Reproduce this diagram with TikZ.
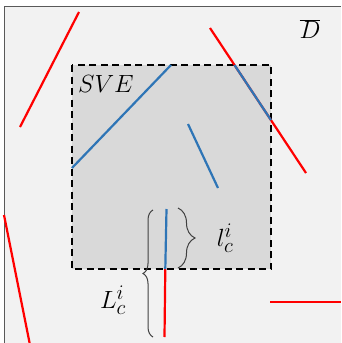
\documentclass[tikz,border=0pt]{standalone}
\usetikzlibrary{decorations.pathreplacing,calc}
\definecolor{bgfill}{HTML}{F2F2F2}
\definecolor{svefill}{HTML}{D9D9D9}
\definecolor{fiberred}{HTML}{FF0000}
\definecolor{fiberblue}{HTML}{2E75B6}
\definecolor{framegray}{HTML}{595959}
\definecolor{bracegray}{HTML}{404040}
\begin{document}
\begin{tikzpicture}[x=1pt,y=-1pt,
  redfiber/.style={draw=fiberred,line width=2.2pt},
  bluefiber/.style={draw=fiberblue,line width=2.2pt},
  frameline/.style={draw=framegray,line width=1pt},
  svebox/.style={draw=black,fill=svefill,line width=1.6pt,dash pattern=on 7pt off 4.5pt},
  bracestyle/.style={draw=bracegray,line width=1pt,decorate},
  lab/.style={font=\fontsize{28}{30}\selectfont,inner sep=0pt}
]
\useasboundingbox (0,0) rectangle (341,343);
\fill[bgfill] (4,6) rectangle (341,343);
\draw[frameline] (4,343) -- (4,6) -- (341,6);
\draw[svebox] (72,65) rectangle (271,269);

% red fibres
\coordinate (r1a) at (79,12);   \coordinate (r1b) at (20,127);
\coordinate (r2a) at (210,28);  \coordinate (r2b) at (306,173);
\coordinate (r3a) at (4,215);   \coordinate (r3b) at (30,345);
\coordinate (r4a) at (270,302); \coordinate (r4b) at (341,302);
\coordinate (r5a) at (165.3,269); \coordinate (r5b) at (164.5,337);
\draw[redfiber] (r1a) -- (r1b);
\draw[redfiber] (r2a) -- (r2b);
\draw[redfiber] (r3a) -- (r3b);
\draw[redfiber] (r4a) -- (r4b);
\draw[redfiber] (r5a) -- (r5b);

% blue fibre segments
\coordinate (b1a) at (72,168);  \coordinate (b1b) at (171,65);
\coordinate (b2a) at (188,124); \coordinate (b2b) at (218,188);
\coordinate (b3a) at ($(r2a)!0.2552!(r2b)$);
\coordinate (b3b) at ($(r2a)!0.6354!(r2b)$);
\coordinate (b4a) at (166.5,209);
\draw[bluefiber] (b1a) -- (b1b);
\draw[bluefiber] (b2a) -- (b2b);
\draw[bluefiber] (b3a) -- (b3b);
\draw[bluefiber] (b4a) -- (r5a);

% braces
\coordinate (s1) at (178,208); \coordinate (s2) at (178,268);
\draw[bracestyle,decoration={brace,amplitude=17pt}] (s1) -- (s2);
\coordinate (L1) at (153,337); \coordinate (L2) at (153,210);
\draw[bracestyle,decoration={brace,amplitude=10pt}] (L1) -- (L2);

% labels
\node[lab] (sve) at (106,84) {$SVE$};
\node[lab] (dbar) at (310,29) {$\overline{D}$};
\node[lab] (lc) at (225,238) {$l_c^i$};
\node[lab] (Lc) at (113,300) {$L_c^i$};
\end{tikzpicture}
\end{document}
